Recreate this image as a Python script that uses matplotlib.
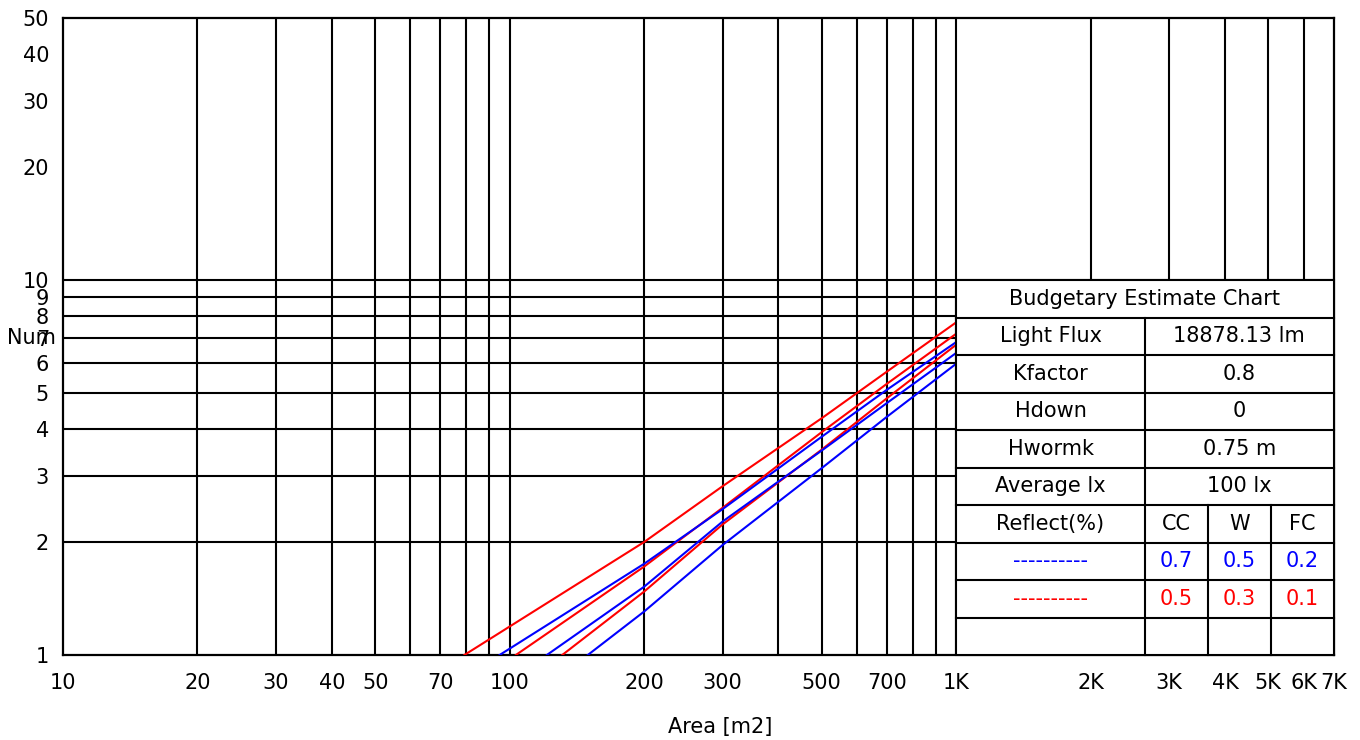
import matplotlib
matplotlib.use('Agg')
import matplotlib.pyplot as plt
from matplotlib.patches import Rectangle
import numpy as np

# values (Area in m2, Num of luminaires)
red1_area = [79.2, 200, 300, 500, 700, 1000]
red1_num = [1.0, 2.0, 2.82, 4.28, 5.70, 7.71]
red2_area = [103.3, 200, 300, 500, 700, 1000]
red2_num = [1.0, 1.72, 2.47, 3.93, 5.29, 7.19]
red3_area = [131.2, 200, 300, 500, 700, 1000]
red3_num = [1.0, 1.475, 2.23, 3.53, 4.84, 6.72]
blue1_area = [95.0, 200, 300, 500, 700, 1000]
blue1_num = [1.0, 1.75, 2.45, 3.82, 5.10, 6.83]
blue2_area = [121.2, 200, 300, 500, 700, 1000]
blue2_num = [1.0, 1.52, 2.27, 3.51, 4.70, 6.39]
blue3_area = [149.7, 200, 300, 500, 700, 1000]
blue3_num = [1.0, 1.305, 1.965, 3.15, 4.32, 5.98]

xtick_vals = [10, 20, 30, 40, 50, 70, 100, 200, 300, 500, 700,
              1000, 2000, 3000, 4000, 5000, 6000, 7000]
xtick_labels = ['10', '20', '30', '40', '50', '70', '100', '200', '300', '500', '700',
                '1K', '2K', '3K', '4K', '5K', '6K', '7K']
ytick_vals = [1, 2, 3, 4, 5, 6, 7, 8, 9, 10, 20, 30, 40, 50]

info_labels = ['Light Flux', 'Kfactor', 'Hdown', 'Hwormk', 'Average lx']
info_values = ['18878.13 lm', '0.8', '0', '0.75 m', '100 lx']
reflect_cols = ['CC', 'W', 'FC']
blue_reflect = ['0.7', '0.5', '0.2']
red_reflect = ['0.5', '0.3', '0.1']

FS = 15
plt.rcParams['font.family'] = ['DejaVu Sans']

fig = plt.figure(figsize=(13.6, 7.4), dpi=100)
W, H = 1360.0, 740.0
x0, x1, y0, y1 = 63, 1333.5, 655, 18
ax = fig.add_axes([x0 / W, 1 - y0 / H, (x1 - x0) / W, (y0 - y1) / H])
ax.set_xscale('log')
ax.set_yscale('log')
ax.set_xlim(10, 7000)
ax.set_ylim(1, 50)

# grid lines
gx = list(range(20, 100, 10)) + list(range(100, 1000, 100)) + list(range(1000, 7000, 1000))
for v in gx:
    ax.axvline(v, color='black', lw=1.5, zorder=1)
for v in range(2, 11):
    ax.axhline(v, color='black', lw=1.5, zorder=1)

for a, n in [(red1_area, red1_num), (red2_area, red2_num), (red3_area, red3_num)]:
    ax.plot(a, n, color='#ff0000', lw=1.5, zorder=3)
for a, n in [(blue1_area, blue1_num), (blue2_area, blue2_num), (blue3_area, blue3_num)]:
    ax.plot(a, n, color='#0000ff', lw=1.5, zorder=3)

ax.set_xticks(xtick_vals)
ax.set_xticklabels(xtick_labels)
ax.set_yticks(ytick_vals)
ax.set_yticklabels([str(v) for v in ytick_vals])
ax.minorticks_off()
ax.tick_params(axis='both', length=0, labelsize=FS, colors='black')
ax.tick_params(axis='x', pad=13)
ax.tick_params(axis='y', pad=10)
for s in ax.spines.values():
    s.set_color('black')
    s.set_linewidth(1.6)

ax.set_ylabel('Num', rotation=0, fontsize=FS, ha='left', va='center')
ax.yaxis.set_label_coords(-(63 - 7) / (x1 - x0), (655 - 338) / (y0 - y1))
fig.text(720 / W, 1 - 727 / H, 'Area [m2]', fontsize=FS, ha='center', va='center')

# estimate table in the lower right corner (axes fraction coords)
tx0 = 2 / np.log10(700)
tx1 = 1.0
ttop = 1 / np.log10(50)
rh = ttop / 10
c1 = (1145 - x0) / (x1 - x0)
c2 = (1208 - x0) / (x1 - x0)
c3 = (1271 - x0) / (x1 - x0)
tr = ax.transAxes
kw = dict(transform=tr, color='black', lw=1.5, zorder=6, clip_on=False)

ax.add_patch(Rectangle((tx0, 0), tx1 - tx0, ttop, transform=tr, facecolor='white',
                       edgecolor='black', lw=1.5, zorder=5, clip_on=False))
for i in range(1, 10):
    ax.plot([tx0, tx1], [ttop - i * rh] * 2, **kw)
ax.plot([c1, c1], [0, ttop - rh], **kw)
for c in [c2, c3]:
    ax.plot([c, c], [0, ttop - 6 * rh], **kw)

def row_y(i):
    return ttop - (i + 0.5) * rh

tk = dict(transform=tr, fontsize=FS, ha='center', va='center', zorder=7)
ax.text((tx0 + tx1) / 2, row_y(0), 'Budgetary Estimate Chart', **tk)
for i, (lab, val) in enumerate(zip(info_labels, info_values)):
    ax.text((tx0 + c1) / 2, row_y(i + 1), lab, **tk)
    ax.text((c1 + tx1) / 2, row_y(i + 1), val, **tk)
ax.text((tx0 + c1) / 2, row_y(6), 'Reflect(%)', **tk)
col_mid = [(c1 + c2) / 2, (c2 + c3) / 2, (c3 + tx1) / 2]
for xm, lab in zip(col_mid, reflect_cols):
    ax.text(xm, row_y(6), lab, **tk)
ax.text((tx0 + c1) / 2, row_y(7), '----------', color='#0000ff', **tk)
ax.text((tx0 + c1) / 2, row_y(8), '----------', color='#ff0000', **tk)
for xm, b, r in zip(col_mid, blue_reflect, red_reflect):
    ax.text(xm, row_y(7), b, color='#0000ff', **tk)
    ax.text(xm, row_y(8), r, color='#ff0000', **tk)

fig.savefig('out.png', dpi=100)
